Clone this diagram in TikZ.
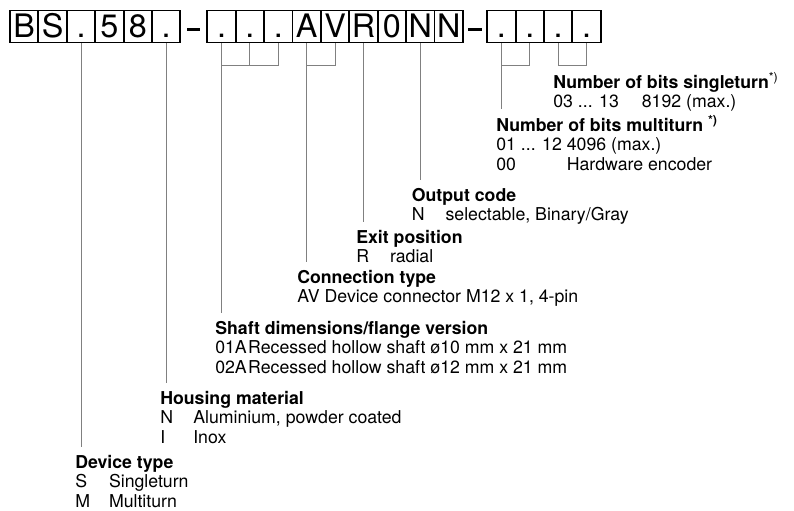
\documentclass[tikz,border=0pt]{standalone}
\usepackage{fontspec}
\setmainfont{TeX Gyre Heros}

\begin{document}
\begin{tikzpicture}[
    cell/.style={rectangle,draw,line width=1.3pt,minimum width=0.71cm,minimum height=0.8cm,inner sep=0pt,text height=16.5pt,text depth=1pt,font=\fontsize{23}{23}\selectfont},
    hyph/.style={rectangle,fill=black,minimum width=0.33cm,minimum height=0.075cm,inner sep=0pt},
    lead/.style={gray,line width=0.7pt},
    legend/.style={anchor=base west,inner xsep=0pt,inner ysep=5pt,font=\fontsize{12.6}{13.9}\selectfont}
]
    \useasboundingbox (0,0) rectangle (19.85,-12.75);

    % type code
    \foreach \ch [count=\i] in {B,S,.,5,8,.}
        \node[cell] (b\i) at ({0.25+0.71*(\i-0.5)},-0.6625) {\ch};
    \node[hyph] (h1) at (4.8325,-0.7325) {};
    \foreach \ch [count=\i] in {.,.,.,A,V,R,0,N,N}
        \node[cell] (c\i) at ({5.1825+0.71*(\i-0.5)},-0.6625) {\ch};
    \node[hyph] (h2) at (11.875,-0.7325) {};
    \foreach \ch [count=\i] in {.,.,.,.}
        \node[cell] (d\i) at ({12.18+0.71*(\i-0.5)},-0.6625) {\ch};

    % legends
    \node[legend] (single) at (13.825,-2.2) {\begin{tabular}[t]{@{}p{63pt}@{}l@{}}
        \multicolumn{2}{@{}l@{}}{\textbf{Number of bits singleturn}\textsuperscript{*)}}\\
        03 ... 13 & 8192 (max.)
    \end{tabular}};
    \node[legend] (multi) at (12.4,-3.275) {\begin{tabular}[t]{@{}l@{ }l@{}}
        \multicolumn{2}{@{}l@{}}{\textbf{Number of bits multiturn \textsuperscript{*)}}}\\
        01 ... 12 & 4096 (max.)\\
        00 & Hardware encoder
    \end{tabular}};
    \node[legend] (outcode) at (10.29,-5.025) {\begin{tabular}[t]{@{}p{24pt}@{}l@{}}
        \multicolumn{2}{@{}l@{}}{\textbf{Output code}}\\
        N & selectable, Binary/Gray
    \end{tabular}};
    \node[legend] (exitpos) at (8.9,-6.075) {\begin{tabular}[t]{@{}p{24pt}@{}l@{}}
        \multicolumn{2}{@{}l@{}}{\textbf{Exit position}}\\
        R & radial
    \end{tabular}};
    \node[legend] (conn) at (7.425,-7.075) {\begin{tabular}[t]{@{}p{19.5pt}@{}l@{}}
        \multicolumn{2}{@{}l@{}}{\textbf{Connection type}}\\
        AV & Device connector M12 x 1, 4-pin
    \end{tabular}};
    \node[legend] (shaft) at (5.375,-8.35) {\begin{tabular}[t]{@{}l@{\hspace{1pt}}l@{}}
        \multicolumn{2}{@{}l@{}}{\textbf{Shaft dimensions/flange version}}\\
        01A & Recessed hollow shaft ø10 mm x 21 mm\\
        02A & Recessed hollow shaft ø12 mm x 21 mm
    \end{tabular}};
    \node[legend] (housing) at (4.0,-10.1) {\begin{tabular}[t]{@{}p{23.5pt}@{}l@{}}
        \multicolumn{2}{@{}l@{}}{\textbf{Housing material}}\\
        N & Aluminium, powder coated\\
        I & Inox
    \end{tabular}};
    \node[legend] (device) at (1.875,-11.7) {\begin{tabular}[t]{@{}p{24pt}@{}l@{}}
        \multicolumn{2}{@{}l@{}}{\textbf{Device type}}\\
        S & Singleturn\\
        M & Multiturn
    \end{tabular}};

    % leaders
    \draw[lead] (b3.south) -- (b3.south |- device.north);
    \draw[lead] (b6.south) -- (b6.south |- housing.north);
    \coordinate (kshaft) at ([yshift=-0.54cm]c1.south);
    \draw[lead] (c1.south) -- (c1.south |- shaft.north);
    \draw[lead] (c2.south) |- (kshaft);
    \draw[lead] (c3.south) |- (kshaft);
    \coordinate (kconn) at ([yshift=-0.54cm]c4.south);
    \draw[lead] (c4.south) -- (c4.south |- conn.north);
    \draw[lead] (c5.south) |- (kconn);
    \draw[lead] (c6.south) -- (c6.south |- exitpos.north);
    \draw[lead] (c8.south) -- (c8.south |- outcode.north);
    \coordinate (kmulti) at ([yshift=-0.54cm]d1.south);
    \draw[lead] (d1.south) -- (d1.south |- multi.north);
    \draw[lead] (d2.south) |- (kmulti);
    \coordinate (ksingle) at ([yshift=-0.54cm]d3.south);
    \draw[lead] (d3.south) -- (d3.south |- single.north);
    \draw[lead] (d4.south) |- (ksingle);
\end{tikzpicture}
\end{document}
